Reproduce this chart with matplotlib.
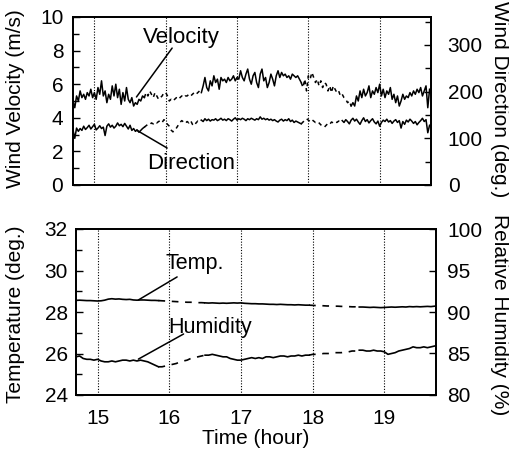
import numpy as np
import matplotlib.pyplot as plt
from matplotlib.ticker import MultipleLocator

plt.rcParams['font.family'] = ['Liberation Sans', 'DejaVu Sans']

# wind: one sample every 0.025 h from 14.7 h
wind_t0, wind_dt = 14.7, 0.025
velocity = [
    5.0, 4.6, 5.3, 5.0, 5.6, 5.2, 5.4, 5.1, 5.5, 5.3, 5.7, 5.2, 5.5, 5.1, 5.8, 5.4,
    6.2, 5.3, 5.6, 4.9, 5.4, 5.1, 5.9, 5.3, 6.0, 5.2, 5.7, 4.8, 5.5, 5.0, 5.8, 5.1,
    4.9, 5.2, 4.7, 4.9, 4.8, 5.1, 5.0, 5.3, 5.2,
    5.5, 5.3, 5.6, 5.4, 5.2, 5.5, 5.3, 5.1, 5.2, 5.3, 5.5, 5.5, 5.3, 5.0, 5.1, 5.0,
    5.1, 5.2, 5.1, 5.2, 5.3, 5.2, 5.3, 5.3, 5.4, 5.3, 5.4, 5.5, 5.4, 5.5, 5.6, 5.5,
    5.9, 6.4, 5.8, 5.6, 6.2, 5.9, 6.5, 6.1, 6.3, 5.7, 6.4, 6.2, 6.3, 6.1, 6.4, 6.2,
    6.3, 6.5, 6.2, 6.4, 6.3, 6.8, 6.4, 6.2, 6.6, 6.9, 6.3, 6.0, 6.5, 6.7, 6.1, 5.8,
    6.6, 6.9, 6.2, 6.4, 5.8, 6.1, 6.6, 6.3, 5.9, 6.5, 6.8, 6.4, 6.7, 6.5, 6.6, 6.4,
    6.5, 6.3, 6.6, 6.5, 6.4, 6.5, 6.3, 6.1,
    5.8, 6.3, 5.6, 6.5, 6.3, 6.7, 6.4, 6.1, 6.3, 5.9, 6.2, 5.8, 6.1, 6.0, 5.6, 5.9,
    5.5, 5.9, 5.7, 5.5, 5.6, 5.3, 5.4, 5.2, 5.1, 4.9, 5.0, 4.7,
    4.9, 4.7, 5.3, 5.0, 5.6, 5.2, 5.7, 5.3, 5.5, 5.9, 5.2, 5.6, 5.4, 5.8, 5.5, 6.0,
    5.3, 5.7, 5.2, 5.6, 5.4, 5.8, 5.1, 5.4, 4.9, 5.3, 4.7, 5.0, 5.4, 5.1, 5.3, 5.2,
    5.5, 5.3, 5.6, 5.4, 5.7, 5.5, 5.8, 5.3, 5.6, 5.9, 4.6, 5.7,
]
direction = [
    118, 100, 122, 115, 121, 117, 126, 119, 123, 128, 120, 125, 130, 118, 122, 127,
    121, 124, 106, 126, 131, 124, 128, 122, 126, 133, 127, 130, 125, 132, 126, 120,
    128, 117, 121, 115, 118, 113, 117, 121, 124,
    127, 130, 129, 133, 131, 135, 133, 136, 138, 134, 140, 136, 130, 126, 118, 114,
    116, 122, 128, 134, 138, 135, 132, 136, 133, 138, 130, 127, 133, 137, 135,
    139, 136, 142, 138, 141, 137, 140, 139, 142, 138, 140, 143, 139, 141, 138, 142,
    140, 137, 141, 144, 139, 142, 140, 143, 141, 138, 142, 140, 143, 141, 139, 142,
    140, 146, 141, 143, 140, 142, 139, 141, 138, 140, 137, 135, 139, 141, 137, 140,
    138, 142, 136, 139, 134, 137, 135, 133, 131,
    135, 138, 142, 139, 136, 140, 137, 134, 136, 133, 129, 126, 124, 128, 132, 130,
    135, 133, 136, 134, 137, 135,
    138, 134, 140, 136, 131, 139, 143, 137, 141, 135, 130, 138, 144, 136, 140, 133,
    138, 142, 135, 131, 137, 126, 134, 139, 136, 141, 135, 138, 132, 137, 140, 134,
    138, 122, 136, 130, 139, 135, 141, 137, 132, 136, 129, 134, 138, 143, 136, 140,
    112, 128,
]
vel_solid = [(14.7, 15.7), (16.5, 17.9), (18.6, 19.7)]
dir_solid = [(14.7, 15.7), (16.5, 17.9), (18.475, 19.7)]

# temperature / humidity: one sample every 0.05 h from 14.7 h
met_t0, met_dt = 14.7, 0.05
temperature = [
    28.56, 28.57, 28.56, 28.55, 28.55, 28.54, 28.53, 28.54, 28.57, 28.62, 28.64,
    28.62, 28.63, 28.61, 28.60, 28.61, 28.58, 28.57, 28.58, 28.58, 28.57, 28.56,
    28.56, 28.55, 28.54, 28.53, 28.52, 28.51, 28.50, 28.49, 28.48, 28.47, 28.47,
    28.46, 28.45, 28.45, 28.44, 28.43, 28.44, 28.43, 28.42, 28.43, 28.42, 28.43,
    28.44, 28.43, 28.44, 28.42, 28.41, 28.40, 28.40, 28.39, 28.39, 28.38, 28.37,
    28.37, 28.36, 28.37, 28.36, 28.35, 28.35, 28.34, 28.35, 28.34, 28.33, 28.33,
    28.32, 28.31, 28.31, 28.30, 28.29, 28.29, 28.28, 28.28, 28.27, 28.27, 28.26,
    28.25, 28.25, 28.24, 28.24, 28.23, 28.22, 28.23, 28.22, 28.21, 28.22, 28.23,
    28.24, 28.23, 28.24, 28.25, 28.24, 28.26, 28.25, 28.26, 28.25, 28.26, 28.27,
    28.26, 28.28,
]
humidity = [
    84.6, 84.7, 84.4, 84.3, 84.3, 84.2, 84.3, 84.1, 84.0, 84.0, 84.1, 84.0, 84.1,
    84.2, 84.2, 84.1, 84.2, 84.1, 84.2, 84.1, 84.0, 83.8, 83.6, 83.4, 83.4, 83.5,
    83.6, 83.7, 83.8, 84.0, 84.1, 84.2, 84.4, 84.5, 84.6, 84.7, 84.8, 84.8, 84.9,
    84.8, 84.7, 84.6, 84.6, 84.4, 84.3, 84.2, 84.2, 84.3, 84.4, 84.5, 84.4, 84.5,
    84.4, 84.6, 84.6, 84.5, 84.6, 84.7, 84.7, 84.6, 84.7, 84.7, 84.8, 84.7, 84.8,
    84.8, 84.9, 84.9, 84.9, 85.0, 85.0, 85.0, 85.1, 85.1, 85.1, 85.2, 85.2, 85.3,
    85.3, 85.4, 85.4, 85.3, 85.3, 85.4, 85.3, 85.3, 85.2, 84.9, 85.0, 85.1, 85.3,
    85.4, 85.5, 85.6, 85.8, 85.7, 85.7, 85.8, 85.7, 85.8, 85.9,
]
temp_solid = [(14.7, 15.85), (16.5, 17.95), (18.65, 19.7)]
hum_solid = [(14.7, 15.85), (16.5, 17.95), (18.65, 19.7)]

hours = [15, 16, 17, 18, 19]


def split_series(t, y, solid):
    # solid where logged continuously, the rest drawn broken
    mask = np.zeros(len(t), bool)
    for a, b in solid:
        mask |= (t >= a - 1e-9) & (t <= b + 1e-9)
    ys = np.where(mask, y, np.nan)
    yg = np.full(len(y), np.nan)
    for i in range(len(t)):
        if not mask[i] or (i > 0 and not mask[i - 1]) or (i < len(t) - 1 and not mask[i + 1]):
            yg[i] = y[i]
    return ys, yg


def draw(ax, t, y, solid, dash, lw=1.1):
    ys, yg = split_series(t, np.asarray(y, float), solid)
    ax.plot(t, yg, color='black', lw=lw, ls=dash)
    ax.plot(t, ys, color='black', lw=lw)


def style(ax, pad):
    ax.tick_params(direction='in', which='both', length=5, width=1, labelsize=15, pad=pad)
    ax.tick_params(which='minor', length=4)
    for s in ax.spines.values():
        s.set_linewidth(1.3)


fig = plt.figure(figsize=(5.1, 4.51), dpi=100)
W, H = 510, 451
ax1 = fig.add_axes([73 / W, 1 - 185 / H, 358 / W, 168 / H])
ax2 = fig.add_axes([76 / W, 1 - 395 / H, 360 / W, 166 / H])

tw = wind_t0 + wind_dt * np.arange(len(velocity))
tm = met_t0 + met_dt * np.arange(len(temperature))

# ---- wind panel
ax1r = ax1.twinx()
draw(ax1, tw, velocity, vel_solid, (0, (2.5, 2.5)))
draw(ax1r, tw, direction, dir_solid, (0, (2.5, 2.5)))
ax1.set_xlim(14.7, 19.72)
ax1.set_ylim(0, 10)
ax1r.set_ylim(0, 360)
ax1.yaxis.set_major_locator(MultipleLocator(2))
ax1.yaxis.set_minor_locator(MultipleLocator(1))
ax1r.yaxis.set_major_locator(MultipleLocator(100))
ax1r.yaxis.set_minor_locator(MultipleLocator(50))
ax1.set_xticks(hours)
ax1.set_xticklabels([])
ax1.grid(axis='x', color='black', ls=(0, (1, 1.5)), lw=0.8)
style(ax1, 7)
style(ax1r, 12)
ax1.tick_params(axis='x', length=0)

ax1.annotate('', xy=(15.59, 5.24), xytext=(16.09, 8.15),
             arrowprops=dict(arrowstyle='-', lw=1.1, color='black', shrinkA=0, shrinkB=0))
ax1.text(16.22, 8.8, 'Velocity', fontsize=16, ha='center', va='center')
ax1.annotate('', xy=(15.59, 3.27), xytext=(16.02, 2.2),
             arrowprops=dict(arrowstyle='-', lw=1.1, color='black', shrinkA=0, shrinkB=0))
ax1.text(16.36, 1.3, 'Direction', fontsize=16, ha='center', va='center')

# ---- temperature / humidity panel
ax2r = ax2.twinx()
draw(ax2, tm, temperature, temp_solid, (0, (4, 4)), lw=1.2)
draw(ax2r, tm, humidity, hum_solid, (0, (4, 4)), lw=1.2)
ax2.set_xlim(14.7, 19.72)
ax2.set_ylim(24, 32)
ax2r.set_ylim(80, 100)
ax2.yaxis.set_major_locator(MultipleLocator(2))
ax2.yaxis.set_minor_locator(MultipleLocator(1))
ax2r.yaxis.set_major_locator(MultipleLocator(5))
ax2.set_xticks(hours)
ax2.grid(axis='x', color='black', ls=(0, (1, 1.5)), lw=0.8)
style(ax2, 6)
style(ax2r, 8)
ax2.tick_params(axis='x', length=0, pad=10)

ax2.annotate('', xy=(15.57, 28.58), xytext=(16.11, 29.69),
             arrowprops=dict(arrowstyle='-', lw=1.1, color='black', shrinkA=0, shrinkB=0))
ax2.text(16.35, 30.36, 'Temp.', fontsize=15.5, ha='center', va='center')
ax2.annotate('', xy=(15.57, 25.73), xytext=(16.2, 26.94),
             arrowprops=dict(arrowstyle='-', lw=1.1, color='black', shrinkA=0, shrinkB=0))
ax2.text(16.57, 27.23, 'Humidity', fontsize=15.5, ha='center', va='center')

# axis titles
fig.text(16 / W, 1 - 99 / H, 'Wind Velocity (m/s)', rotation=90, fontsize=15, ha='center', va='center')
fig.text(500 / W, 1 - 99 / H, 'Wind Direction (deg.)', rotation=270, fontsize=15, ha='center', va='center')
fig.text(16 / W, 1 - 314 / H, 'Temperature (deg.)', rotation=90, fontsize=15, ha='center', va='center')
fig.text(500 / W, 1 - 315 / H, 'Relative Humidity (%)', rotation=270, fontsize=15, ha='center', va='center')
fig.text(256 / W, 1 - 438 / H, 'Time (hour)', fontsize=15, ha='center', va='center')

fig.savefig('out.png', dpi=100)
